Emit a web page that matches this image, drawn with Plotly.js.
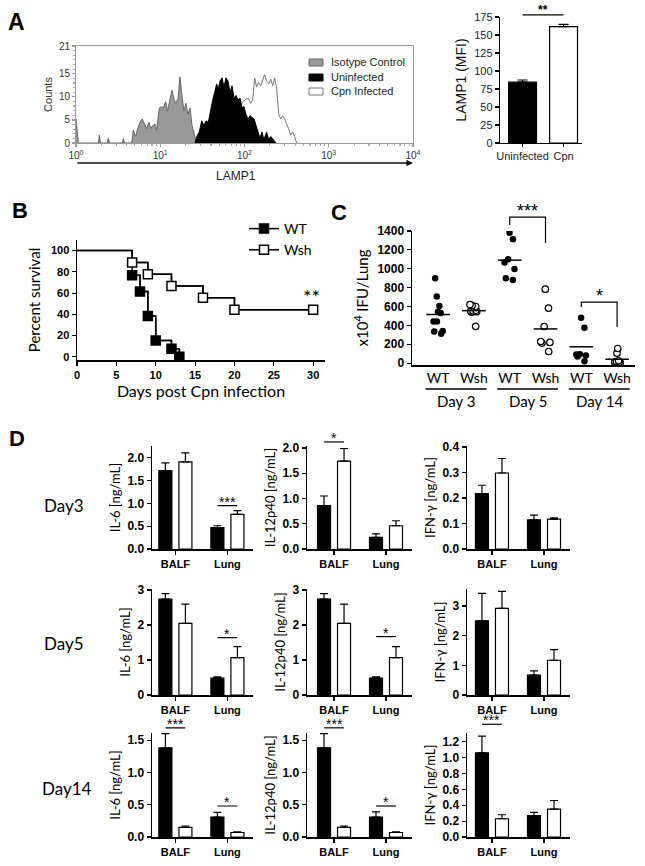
<!DOCTYPE html>
<html><head><meta charset="utf-8">
<script src="https://cdn.plot.ly/plotly-3.0.1.min.js"></script>
<style>html,body{margin:0;padding:0;background:#fff}#chart{width:645px;height:866px}</style>
</head><body><div id="chart"></div>
<script>
// ================= DATA =================
// Panel A – flow cytometry histogram (LAMP1 fluorescence vs counts)
const isoX = [1.0, 1.066, 1.85, 1.89, 1.95, 2.35, 2.42, 2.5, 3.55, 3.65, 3.75, 4.58, 4.79, 5.10, 5.39, 5.75, 6.12, 6.47, 6.90, 7.35, 7.69, 8.13, 8.66, 9.06, 9.75, 10.4, 10.9, 11.6, 12.2, 13.1, 13.8, 14.6, 15.4, 16.3, 17.1, 18.1, 19.1, 20.2, 21.3, 22.6, 23.8, 25.2, 27.1];
const isoCount = [5.2, 0, 0, 1.7, 0, 0, 1.0, 0, 0, 1.0, 0, 0, 2.8, 1.4, 3.1, 4.5, 5.2, 4.1, 3.1, 4.5, 3.1, 3.8, 4.1, 2.8, 7.6, 7.9, 7.6, 9.0, 6.9, 9.7, 11.4, 9.3, 8.6, 9.7, 14.3, 10.3, 6.9, 8.6, 6.2, 7.6, 3.8, 2.1, 0];
const uninfX = [25.8, 27.6, 29.1, 31.0, 33.1, 34.9, 37.2, 39.7, 41.9, 44.3, 46.7, 48.9, 51.2, 54.1, 57.1, 60.3, 63.7, 67.3, 71.1, 75.1, 79.3, 83.8, 88.5, 93.4, 98.6, 104, 110, 116, 123, 130, 137, 145, 153, 161, 170, 183, 194, 205, 220, 237];
const uninfCount = [0, 1.7, 2.4, 4.8, 3.8, 4.8, 4.5, 7.6, 9.3, 11.0, 12.8, 11.7, 13.4, 14.1, 12.1, 14.1, 13.4, 11.0, 12.4, 9.7, 10.3, 9.3, 9.7, 7.6, 7.9, 6.2, 5.2, 5.9, 5.5, 5.2, 3.8, 2.1, 1.0, 2.4, 0.7, 2.4, 0.7, 1.4, 0.7, 0];
const cpnX = [29.6, 42.7, 61.4, 88.5, 96.9, 104, 111, 118, 125, 132, 139, 147, 156, 164, 173, 183, 194, 205, 216, 228, 241, 255, 269, 284, 300, 316, 334, 353, 373, 394, 416];
const cpnCount = [0, 2.5, 5.5, 8.0, 9.0, 9.5, 9.7, 8.6, 9.3, 14.1, 12.1, 13.1, 12.4, 13.8, 14.8, 13.4, 12.8, 13.8, 12.4, 14.1, 11.7, 6.2, 5.2, 5.9, 5.2, 4.1, 3.1, 1.7, 2.4, 1.4, 0];
const histNames = ['Isotype Control', 'Uninfected', 'Cpn Infected'];
const histTickVals = [1, 10, 100, 1000, 10000];
const histTickText = ['10<sup>0</sup>', '10<sup>1</sup>', '10<sup>2</sup>', '10<sup>3</sup>', '10<sup>4</sup>'];
const countTickVals = [0, 5, 10, 15, 21];

// Panel A – LAMP1 MFI bars
const mfiCats = ['Uninfected', 'Cpn'];
const mfiVals = [84.5, 161.5];
const mfiErr = [3, 3.3];

// Panel B – survival
const wtDays = [0, 7, 8, 9, 10, 12, 13];
const wtSurv = [100, 76.9, 61.5, 38.5, 15.4, 7.7, 0];
const wshDays = [0, 7, 9, 12, 16, 20, 30];
const wshSurv = [100, 88.9, 77.8, 66.7, 55.6, 44.4, 44.4];
const survNames = ['WT', 'Wsh'];

// Panel C – IFU per lung (x10^4)
const ifuLabels = ['WT', 'Wsh', 'WT', 'Wsh', 'WT', 'Wsh'];
const ifuDayLabels = ['Day 3', 'Day 5', 'Day 14'];
const ifuWT3 = [900, 705, 605, 545, 530, 440, 440, 340, 310, 335];
const ifuWsh3 = [610, 620, 600, 590, 560, 550, 545, 555, 540, 390];
const ifuWT5 = [1382, 1312, 1065, 1100, 998, 882, 899];
const ifuWsh5 = [783, 582, 388, 219, 229, 212, 123];
const ifuWT14 = [480, 375, 90, 80, 95, 70, 20];
const ifuWsh14 = [155, 105, 25, 15, 10, 8, 5, 5];

// Panel D – cytokines (ng/mL), [BALF, Lung]
const sites = ['BALF', 'Lung'];
const cytokineTitles = ['IL-6 [ng/mL]', 'IL-12p40 [ng/mL]', 'IFN-γ [ng/mL]'];
const dayRowLabels = ['Day3', 'Day5', 'Day14'];
const d3_il6_wt = [1.72, 0.47],  d3_il6_wt_err = [0.17, 0.04];
const d3_il6_wsh = [1.91, 0.76], d3_il6_wsh_err = [0.20, 0.08];
const d3_il12_wt = [0.86, 0.23], d3_il12_wt_err = [0.19, 0.07];
const d3_il12_wsh = [1.74, 0.46], d3_il12_wsh_err = [0.25, 0.10];
const d3_ifn_wt = [0.217, 0.114], d3_ifn_wt_err = [0.033, 0.019];
const d3_ifn_wsh = [0.298, 0.117], d3_ifn_wsh_err = [0.057, 0.005];
const d5_il6_wt = [2.74, 0.48],  d5_il6_wt_err = [0.16, 0.04];
const d5_il6_wsh = [2.05, 1.07], d5_il6_wsh_err = [0.55, 0.31];
const d5_il12_wt = [2.74, 0.48], d5_il12_wt_err = [0.16, 0.04];
const d5_il12_wsh = [2.05, 1.07], d5_il12_wsh_err = [0.55, 0.31];
const d5_ifn_wt = [2.50, 0.67],  d5_ifn_wt_err = [0.92, 0.14];
const d5_ifn_wsh = [2.92, 1.17], d5_ifn_wsh_err = [0.57, 0.36];
const d14_il6_wt = [1.38, 0.31], d14_il6_wt_err = [0.22, 0.07];
const d14_il6_wsh = [0.15, 0.07], d14_il6_wsh_err = [0.02, 0.01];
const d14_il12_wt = [1.38, 0.31], d14_il12_wt_err = [0.22, 0.08];
const d14_il12_wsh = [0.15, 0.07], d14_il12_wsh_err = [0.02, 0.01];
const d14_ifn_wt = [1.06, 0.27], d14_ifn_wt_err = [0.21, 0.04];
const d14_ifn_wsh = [0.23, 0.35], d14_ifn_wsh_err = [0.05, 0.11];

// ================= LAYOUT HELPERS =================
const W = 645, H = 866;
const px = v => v / W;
const py = v => 1 - v / H;
const ARIAL = 'Liberation Sans, Arial, sans-serif';
const LATO = 'Lato, Open Sans, sans-serif';
const BOLD = (s) => ({family: ARIAL, size: s, color: '#000', weight: 'bold'});

function ax(extra) {
  return Object.assign({showline: true, linecolor: '#000', linewidth: 1.5, ticks: 'outside', ticklen: 4,
    tickwidth: 1.2, tickcolor: '#000', showgrid: false, zeroline: false, automargin: false, fixedrange: true}, extra);
}

const layout = {
  width: W, height: H, margin: {l: 0, r: 0, t: 0, b: 0},
  paper_bgcolor: '#fff', plot_bgcolor: 'rgba(0,0,0,0)',
  font: {family: ARIAL, color: '#000'},
  barmode: 'group', bargap: 0.23, bargroupgap: 0.35, boxmode: 'overlay',
  showlegend: true,
  legend: {x: px(244), y: py(213), xanchor: 'left', yanchor: 'top', bgcolor: 'rgba(0,0,0,0)',
    font: {family: LATO, size: 14, color: '#000'}, itemwidth: 30, traceorder: 'normal'},
  shapes: [], annotations: []
};

// A histogram
layout.xaxis = ax({domain: [px(76), px(413)], type: 'log', range: [0, 4], anchor: 'y',
  tickmode: 'array', tickvals: histTickVals, ticktext: histTickText, linecolor: '#999', linewidth: 1, mirror: true,
  ticklen: 3, tickcolor: '#999', tickfont: {family: ARIAL, size: 10, color: '#333'},
  minor: {ticks: 'outside', ticklen: 2, tickcolor: '#aaa', dtick: 'D1'}});
layout.yaxis = ax({domain: [py(143), py(46)], range: [0, 21], anchor: 'x',
  tickmode: 'array', tickvals: countTickVals, linecolor: '#999', linewidth: 1, mirror: true,
  ticklen: 3, tickcolor: '#999', tickfont: {family: ARIAL, size: 10, color: '#333'},
  minor: {ticks: 'outside', ticklen: 2, tickcolor: '#aaa', dtick: 1, tick0: 0},
  title: {text: 'Counts', font: {family: ARIAL, size: 11, color: '#333'}, standoff: 4}});
// A bars
layout.xaxis2 = ax({domain: [px(500), px(582)], type: 'category', range: [-0.55, 1.45], anchor: 'y2',
  linewidth: 1.2, ticklen: 3, tickfont: {family: ARIAL, size: 11, color: '#222'}});
layout.yaxis2 = ax({domain: [py(143), py(17)], range: [0, 175], dtick: 25, anchor: 'x2', linewidth: 1.2,
  tickfont: {family: ARIAL, size: 11, color: '#222'},
  title: {text: 'LAMP1 (MFI)', font: {family: ARIAL, size: 14, color: '#111'}, standoff: 4}});
// B survival
layout.xaxis3 = ax({domain: [px(77), px(325)], range: [0, 31.5], dtick: 5, tick0: 0, anchor: 'y3',
  tickfont: BOLD(11), title: {text: 'Days post Cpn infection', font: {family: LATO, size: 16}, standoff: 2}});
layout.yaxis3 = ax({domain: [py(360), py(240)], range: [-3, 110], tickmode: 'array', tickvals: [0, 20, 40, 60, 80, 100], anchor: 'x3',
  tickfont: BOLD(11), title: {text: 'Percent survival', font: {family: LATO, size: 15}, standoff: 6}});
// C IFU
layout.xaxis4 = ax({domain: [px(412), px(635)], type: 'linear', range: [-0.73, 5.5], anchor: 'y4',
  tickmode: 'array', tickvals: [0, 1, 2, 3, 4, 5], ticktext: ifuLabels, ticks: '', tickfont: {family: LATO, size: 14}});
layout.yaxis4 = ax({domain: [py(365), py(231)], range: [-20, 1400], tickmode: 'array', tickvals: [0, 200, 400, 600, 800, 1000, 1200, 1400], anchor: 'x4',
  tickfont: BOLD(12), title: {text: 'x10<sup>4</sup> IFU/Lung', font: {family: LATO, size: 15}, standoff: 5}});

// D panels
const dData = [
  [d3_il6_wt, d3_il6_wt_err, d3_il6_wsh, d3_il6_wsh_err],
  [d3_il12_wt, d3_il12_wt_err, d3_il12_wsh, d3_il12_wsh_err],
  [d3_ifn_wt, d3_ifn_wt_err, d3_ifn_wsh, d3_ifn_wsh_err],
  [d5_il6_wt, d5_il6_wt_err, d5_il6_wsh, d5_il6_wsh_err],
  [d5_il12_wt, d5_il12_wt_err, d5_il12_wsh, d5_il12_wsh_err],
  [d5_ifn_wt, d5_ifn_wt_err, d5_ifn_wsh, d5_ifn_wsh_err],
  [d14_il6_wt, d14_il6_wt_err, d14_il6_wsh, d14_il6_wsh_err],
  [d14_il12_wt, d14_il12_wt_err, d14_il12_wsh, d14_il12_wsh_err],
  [d14_ifn_wt, d14_ifn_wt_err, d14_ifn_wsh, d14_ifn_wsh_err]
];
const dYRange = [2.26, 2.04, 0.404, 3.03, 3.03, 3.57, 1.61, 1.61, 1.31];
const dDtick = [0.5, 0.5, 0.1, 1, 1, 1, 0.5, 0.5, 0.2];
const dFmt = ['.1f', '.1f', '.1f', 'd', 'd', 'd', '.1f', '.1f', '.1f'];
const colGeom = [[152, 253.4, -0.45], [307, 412, -0.52], [467, 570, -0.48]];
const rowGeom = [[446, 549], [589, 695], [733, 837]];

for (let k = 0; k < 9; k++) {
  const r = Math.floor(k / 3), c = k % 3, n = 5 + k;
  layout['xaxis' + n] = ax({domain: [px(colGeom[c][0]), px(colGeom[c][1])], type: 'category', range: [colGeom[c][2], 1.5],
    anchor: 'y' + n, ticklen: 4, tickfont: BOLD(11)});
  const ticks = [];
  for (let t = 0; t <= dYRange[k] + 1e-9; t += dDtick[k]) ticks.push(+t.toFixed(3));
  layout['yaxis' + n] = ax({domain: [py(rowGeom[r][1]), py(rowGeom[r][0])], range: [0, dYRange[k]], anchor: 'x' + n,
    tickmode: 'array', tickvals: ticks, tickformat: dFmt[k], tickfont: BOLD(12),
    title: {text: cytokineTitles[c], font: {family: LATO, size: 13}, standoff: 4}});
}

function yP(axKey, v) {
  const a = layout[axKey];
  return a.domain[0] + (v - a.range[0]) / (a.range[1] - a.range[0]) * (a.domain[1] - a.domain[0]);
}

// ================= TRACES =================
const traces = [];
// A histogram (white first so black overlaps it)
const histFill = ['#999', '#000', '#fff'];
const histLine = ['#666', '#000', '#777'];
traces.push({type: 'scatter', mode: 'lines', x: cpnX, y: cpnCount, fill: 'tozeroy', fillcolor: histFill[2],
  line: {color: histLine[2], width: 1}, name: histNames[2], xaxis: 'x', yaxis: 'y', showlegend: false});
traces.push({type: 'scatter', mode: 'lines', x: isoX, y: isoCount, fill: 'tozeroy', fillcolor: histFill[0],
  line: {color: histLine[0], width: 1}, name: histNames[0], xaxis: 'x', yaxis: 'y', showlegend: false});
traces.push({type: 'scatter', mode: 'lines', x: uninfX, y: uninfCount, fill: 'tozeroy', fillcolor: histFill[1],
  line: {color: histLine[1], width: 1}, name: histNames[1], xaxis: 'x', yaxis: 'y', showlegend: false});

// A bars
traces.push({type: 'bar', x: mfiCats, y: mfiVals, width: 0.68, xaxis: 'x2', yaxis: 'y2', showlegend: false,
  marker: {color: ['#000', '#fff'], line: {color: '#000', width: 1.2}},
  error_y: {type: 'data', symmetric: false, array: mfiErr, arrayminus: mfiErr.map(() => 0), color: '#000', thickness: 1.2, width: 5}});

// B survival
const survSets = [[wtDays, wtSurv, '#000'], [wshDays, wshSurv, '#fff']];
survSets.forEach(([d, s, fillc], i) => {
  traces.push({type: 'scatter', mode: 'lines', x: d, y: s, line: {shape: 'hv', color: '#000', width: 1.5},
    xaxis: 'x3', yaxis: 'y3', showlegend: false, cliponaxis: false});
  traces.push({type: 'scatter', mode: 'lines+markers', x: d.slice(1), y: s.slice(1), name: survNames[i],
    line: {shape: 'hv', color: '#000', width: 1.5},
    marker: {symbol: 'square', size: 9, color: fillc, line: {color: '#000', width: 1.5}},
    xaxis: 'x3', yaxis: 'y3', legend: 'legend', cliponaxis: false});
});

// C scatter (box traces with invisible boxes, all points jittered)
const ifuSets = [ifuWT3, ifuWsh3, ifuWT5, ifuWsh5, ifuWT14, ifuWsh14];
ifuSets.forEach((vals, i) => {
  const filled = i % 2 === 0;
  traces.push({type: 'box', y: vals, x0: i, xaxis: 'x4', yaxis: 'y4', boxpoints: 'all', jitter: 0.7, pointpos: 0,
    fillcolor: 'rgba(0,0,0,0)', line: {width: 0, color: 'rgba(0,0,0,0)'}, whiskerwidth: 0, showlegend: false,
    marker: {symbol: 'circle', size: 6.5, color: filled ? '#000' : '#fff', line: {color: '#000', width: filled ? 0 : 1.2}}});
  const mean = vals.reduce((a, b) => a + b, 0) / vals.length;
  traces.push({type: 'scatter', mode: 'lines', x: [i - 0.33, i + 0.33], y: [mean, mean], xaxis: 'x4', yaxis: 'y4',
    line: {color: '#000', width: 1.5}, showlegend: false});
});

// D bars
dData.forEach((p, k) => {
  const n = 5 + k;
  [[p[0], p[1], '#000'], [p[2], p[3], '#fff']].forEach(([v, e, col]) => {
    traces.push({type: 'bar', x: sites, y: v, xaxis: 'x' + n, yaxis: 'y' + n, showlegend: false,
      marker: {color: col, line: {color: '#000', width: 1.2}},
      error_y: {type: 'data', symmetric: false, array: e, arrayminus: e.map(() => 0), color: '#000', thickness: 1.2, width: 4}});
  });
});

// ================= DECORATIONS =================
const A = layout.annotations, S = layout.shapes;
const paperText = (t, x, y, font, xa) => A.push({text: t, x: px(x), y: py(y), xref: 'paper', yref: 'paper', showarrow: false,
  xanchor: xa || 'center', yanchor: 'middle', font: font});
// panel letters
[['A', 16, 22, 23], ['B', 20, 211, 22], ['C', 339, 212, 22], ['D', 17, 438, 22]].forEach(([t, x, y, s]) =>
  paperText('<b>' + t + '</b>', x, y, {family: ARIAL, size: s, color: '#000'}));
// manual legend for histogram (box swatches)
const legRows = [62.5, 77.5, 91.5];
histNames.forEach((nm, i) => {
  S.push({type: 'rect', xref: 'paper', yref: 'paper', x0: px(309), x1: px(323), y0: py(legRows[i] + 3.5), y1: py(legRows[i] - 3.5),
    fillcolor: histFill[i], line: {color: i === 2 ? '#777' : histLine[i], width: 1}});
  paperText(nm, 329, legRows[i], {family: ARIAL, size: 11, color: '#222'}, 'left');
});
// LAMP1 arrow + label
A.push({text: '', x: px(413), y: py(163), xref: 'paper', yref: 'paper', ax: -337, ay: 0, showarrow: true,
  arrowhead: 2, arrowsize: 1, arrowwidth: 1.3, arrowcolor: '#111', standoff: 0});
paperText('LAMP1', 236, 176, {family: ARIAL, size: 12, color: '#222'});
// A bar significance
S.push({type: 'line', xref: 'x2', yref: 'paper', x0: 0, x1: 1, y0: yP('yaxis2', 178), y1: yP('yaxis2', 178), line: {color: '#000', width: 1.2}});
A.push({text: '<b>**</b>', xref: 'x2', yref: 'paper', x: 0.5, y: yP('yaxis2', 178), xanchor: 'center', yanchor: 'bottom', yshift: -4, showarrow: false,
  font: {family: ARIAL, size: 12}});
// B significance
A.push({text: '**', xref: 'x3', yref: 'y3', x: 29.8, y: 57, xanchor: 'center', yanchor: 'middle', showarrow: false, font: {family: LATO, size: 20}});
// C brackets
const brackets = [[2, 3, 1463, 1548, 1272, '***'], [4, 5, 594, 647, 382, '*']];
brackets.forEach(([a, b, l, t, r, txt]) => {
  S.push({type: 'path', xref: 'x4', yref: 'paper', line: {color: '#000', width: 1.2},
    path: `M ${a} ${yP('yaxis4', l)} L ${a} ${yP('yaxis4', t)} L ${b} ${yP('yaxis4', t)} L ${b} ${yP('yaxis4', r)}`});
  A.push({text: txt, xref: 'x4', yref: 'paper', x: (a + b) / 2, y: yP('yaxis4', t), xanchor: 'center', yanchor: 'bottom', yshift: -6,
    showarrow: false, font: {family: ARIAL, size: 18}});
});
// C day group labels
ifuDayLabels.forEach((t, i) => {
  const g = 2 * i + 0.5;
  S.push({type: 'line', xref: 'x4', yref: 'paper', x0: g - 0.85, x1: g + 0.85, y0: py(389), y1: py(389), line: {color: '#000', width: 1.5}});
  A.push({text: t, xref: 'x4', yref: 'paper', x: g, y: py(401), xanchor: 'center', yanchor: 'middle', showarrow: false, font: {family: LATO, size: 15}});
});
// D row labels
[[dayRowLabels[0], 64, 505], [dayRowLabels[1], 64, 643], [dayRowLabels[2], 67, 788]].forEach(([t, x, y]) =>
  paperText(t, x, y, {family: LATO, size: 17, color: '#000'}));
// D significance marks: [panel index, category, level, text]
const sigMarks = [[0, 1, 0.95, '***'], [1, 0, 2.12, '*'], [3, 1, 1.64, '*'], [4, 1, 1.67, '*'],
  [6, 0, 1.69, '***'], [6, 1, 0.48, '*'], [7, 0, 1.69, '***'], [7, 1, 0.48, '*'], [8, 0, 1.42, '***']];
sigMarks.forEach(([k, cat, lv, txt]) => {
  const n = 5 + k, yy = yP('yaxis' + n, lv);
  S.push({type: 'line', xref: 'x' + n, yref: 'paper', x0: cat - 0.19, x1: cat + 0.19, y0: yy, y1: yy, line: {color: '#000', width: 1.2}});
  A.push({text: txt, xref: 'x' + n, yref: 'paper', x: cat, y: yy, xanchor: 'center', yanchor: 'bottom', yshift: -6, showarrow: false,
    font: {family: ARIAL, size: 14}});
});

Plotly.newPlot('chart', traces, layout, {staticPlot: true, displayModeBar: false});
</script>
</body></html>
